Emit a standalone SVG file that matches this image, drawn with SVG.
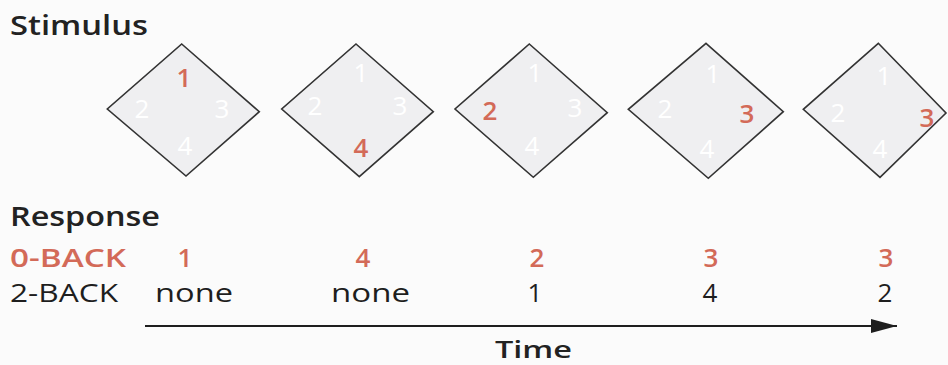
<svg xmlns="http://www.w3.org/2000/svg" width="948" height="365" viewBox="0 0 948 365">
  <defs>
    <style>
      text { font-family: "Open Sans", "Noto Sans", "Liberation Sans", sans-serif; }
      .head { font-size: 27px; font-weight: 600; fill: #222; }
      .red { fill: #d36a58; font-weight: 600; }
      .row0 { font-size: 26px; }
      .row2 { font-size: 26px; font-weight: 400; fill: #1e1e1e; }
      .dia { fill: #efeff1; stroke: #333; stroke-width: 1.6; stroke-linejoin: miter; }
      .dnum { font-size: 26px; text-anchor: middle; }
      .faint { fill: #ffffff; font-weight: 400; }
      .val { text-anchor: middle; }
    </style>
    <marker id="arrow" viewBox="0 0 26 14" refX="26" refY="7" markerWidth="26" markerHeight="14" markerUnits="userSpaceOnUse" orient="auto">
      <path d="M0,0 L26,7 L0,14 Z" fill="#1e1e1e"/>
    </marker>
  </defs>
  <rect x="0" y="0" width="948" height="365" fill="#fbfbfb"/>

  <text class="head" x="10" y="35" textLength="138" lengthAdjust="spacingAndGlyphs">Stimulus</text>

  <g id="stim1">
    <polygon class="dia" points="181.7,44 259.3,111.7 186,176 107.3,109"/>
    <text class="dnum red" x="184" y="87">1</text>
    <text class="dnum faint" x="142" y="118">2</text>
    <text class="dnum faint" x="222" y="118">3</text>
    <text class="dnum faint" x="185" y="155">4</text>
  </g>
  <g id="stim2">
    <polygon class="dia" points="356,44 433.3,111.7 359.3,176.7 281.7,109"/>
    <text class="dnum faint" x="361" y="82">1</text>
    <text class="dnum faint" x="315" y="115">2</text>
    <text class="dnum faint" x="400" y="115">3</text>
    <text class="dnum red" x="361" y="157">4</text>
  </g>
  <g id="stim3">
    <polygon class="dia" points="529.3,44 607.3,112.7 533.3,177.3 455,109"/>
    <text class="dnum faint" x="535" y="82">1</text>
    <text class="dnum red" x="490" y="120">2</text>
    <text class="dnum faint" x="575" y="117">3</text>
    <text class="dnum faint" x="532" y="155">4</text>
  </g>
  <g id="stim4">
    <polygon class="dia" points="706,43.3 783.3,111.7 708.3,178.3 628.3,109.3"/>
    <text class="dnum faint" x="713" y="83">1</text>
    <text class="dnum faint" x="665" y="118">2</text>
    <text class="dnum red" x="747" y="123">3</text>
    <text class="dnum faint" x="707" y="158">4</text>
  </g>
  <g id="stim5">
    <polygon class="dia" points="878.3,43.3 946,113 880,177.3 803.3,109.3"/>
    <text class="dnum faint" x="884" y="85">1</text>
    <text class="dnum faint" x="838" y="122">2</text>
    <text class="dnum red" x="927" y="127">3</text>
    <text class="dnum faint" x="880" y="158">4</text>
  </g>

  <text class="head" x="10" y="226" textLength="150" lengthAdjust="spacingAndGlyphs">Response</text>

  <g id="row0back">
    <text class="row0 red" x="10" y="267" textLength="116" lengthAdjust="spacingAndGlyphs">0-BACK</text>
    <text class="row0 red val" x="185" y="267">1</text>
    <text class="row0 red val" x="363" y="267">4</text>
    <text class="row0 red val" x="537" y="267">2</text>
    <text class="row0 red val" x="711" y="267">3</text>
    <text class="row0 red val" x="886" y="267">3</text>
  </g>
  <g id="row2back">
    <text class="row2" x="10" y="302" textLength="108" lengthAdjust="spacingAndGlyphs">2-BACK</text>
    <text class="row2" x="155" y="302" textLength="78" lengthAdjust="spacingAndGlyphs">none</text>
    <text class="row2" x="331" y="302" textLength="79" lengthAdjust="spacingAndGlyphs">none</text>
    <text class="row2 val" x="535" y="302">1</text>
    <text class="row2 val" x="710" y="302">4</text>
    <text class="row2 val" x="885" y="302">2</text>
  </g>

  <g id="connectors">
    <line x1="145" y1="326" x2="897" y2="326" stroke="#1e1e1e" stroke-width="2.2" marker-end="url(#arrow)"/>
  </g>
  <text x="495" y="358" textLength="77" lengthAdjust="spacingAndGlyphs" style="font-size:24px;font-weight:600;fill:#222">Time</text>
</svg>
